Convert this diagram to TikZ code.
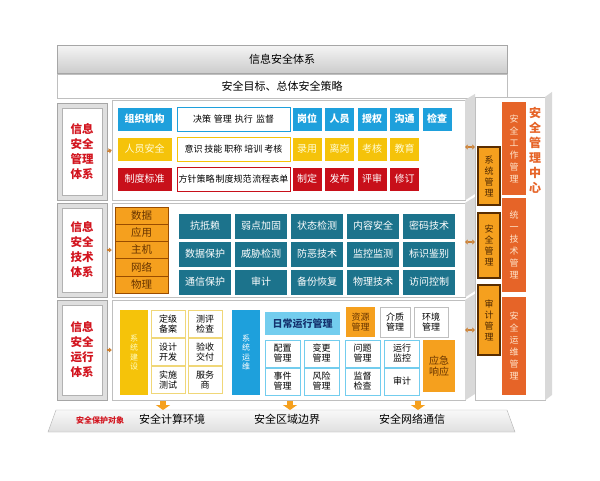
\documentclass[tikz,border=0pt]{standalone}
\usepackage{fontspec}
\setmainfont{Noto Sans CJK SC}
\usepackage{tikz}
\usetikzlibrary{shapes,arrows.meta}
\definecolor{skyblue}{RGB}{30,160,220}
\definecolor{sunyellow}{RGB}{245,195,10}
\definecolor{darkred}{RGB}{200,16,26}
\definecolor{tealblue}{RGB}{28,115,140}
\definecolor{lightorange}{RGB}{245,160,30}
\definecolor{redorange}{RGB}{230,100,40}
\definecolor{paleblue}{RGB}{115,205,238}
\definecolor{paleyellow}{RGB}{240,215,120}
\definecolor{labelred}{RGB}{210,20,30}
\definecolor{navy}{RGB}{20,50,110}
\tikzstyle{cell} = [rectangle, inner sep=0pt, align=center, font=\fontsize{10}{11}\selectfont]
\tikzstyle{blue cell} = [cell, fill=skyblue, draw=white, text=white, font=\fontsize{10}{11}\selectfont\bfseries]
\tikzstyle{yellow cell} = [cell, fill=sunyellow, draw=white, text=yellow!15]
\tikzstyle{red cell} = [cell, fill=darkred, draw=white, text=white]
\tikzstyle{white cell} = [cell, fill=white, line width=1pt, font=\fontsize{9}{10}\selectfont]
\tikzstyle{short} = [minimum width=30, minimum height=24]
\tikzstyle{teal cell} = [cell, fill=tealblue, draw=white, text=white, minimum width=53, minimum height=26]
\tikzstyle{layer cell} = [cell, fill=lightorange, draw=orange!60!black, line width=0.4pt, text=orange!40!black, minimum width=53, minimum height=17.2, font=\fontsize{10.5}{11}\selectfont]
\tikzstyle{ops cell} = [cell, fill=white, line width=1pt, font=\fontsize{9}{10}\selectfont, minimum height=27]
\tikzstyle{label box} = [rectangle, draw=gray!70, fill=gray!25, minimum width=50]
\tikzstyle{label text} = [rectangle, draw=gray!60, fill=white, align=center, text=labelred, font=\fontsize{11.5}{15}\selectfont\bfseries, minimum width=40]
\tikzstyle{panel} = [rectangle, draw=gray!50, fill=white]
\tikzstyle{vbar} = [cell, minimum width=28, minimum height=85, font=\fontsize{8}{9.5}\selectfont]
\tikzstyle{mgr box} = [cell, fill=lightorange, draw=orange!35!black, line width=1.2pt, minimum width=22, text=orange!30!black, font=\fontsize{9}{11}\selectfont]
\tikzstyle{center bar} = [cell, fill=redorange, minimum width=24, text=orange!20, font=\fontsize{9}{12}\selectfont]
\tikzstyle{pointer} = [line width=1.5pt, -{Triangle[length=3pt,width=5pt]}, orange!60!gray]
\tikzstyle{side arrow} = [line width=1.2pt, {Triangle[length=2.5pt,width=5pt]}-{Triangle[length=2.5pt,width=5pt]}, orange!60!gray]
\tikzstyle{down arrow} = [line width=6pt, -{Triangle[length=5pt,width=14pt]}, lightorange]
\begin{document}
\begin{tikzpicture}[x=1pt,y=-1pt]
        \fill[white] (0,0) rectangle (600,480);
        \useasboundingbox (0,0) rectangle (600,480);

        \node (title) [rectangle, draw=gray!70, top color=gray!8, bottom color=gray!40, minimum width=450, minimum height=28, font=\fontsize{11}{12}\selectfont] at (282,59) {信息安全体系};
        \node (goal) [rectangle, draw=gray!50, fill=white, minimum width=450, minimum height=24, font=\fontsize{11}{12}\selectfont] at (282,86) {安全目标、总体安全策略};

        % three layers on the left
        \node (mgtF) [label box, minimum height=97] at (82,151.5) { };
        \node (mgtL) [label text, minimum height=87] at (82,151.5) {信息\\安全\\管理\\体系};
        \node (techF) [label box, minimum height=94] at (82,250) { };
        \node (techL) [label text, minimum height=84] at (82,250) {信息\\安全\\技术\\体系};
        \node (opsF) [label box, minimum height=100] at (82,350) { };
        \node (opsL) [label text, minimum height=90] at (82,350) {信息\\安全\\运行\\体系};

        \node (opsP) [panel, minimum width=353, minimum height=100] at (288.5,350) { };
        \fill[gray!30] (opsP.north east) -- ++(10,-6) -- ++(0,100) -- (opsP.south east) -- cycle;
        \node (techP) [panel, minimum width=353, minimum height=94] at (288.5,250) { };
        \fill[gray!30] (techP.north east) -- ++(10,-6) -- ++(0,94) -- (techP.south east) -- cycle;
        \node (mgtP) [panel, minimum width=353, minimum height=100] at (288.5,150) { };
        \fill[gray!30] (mgtP.north east) -- ++(10,-6) -- ++(0,100) -- (mgtP.south east) -- cycle;

        \draw[pointer] (mgtF.east) -- (mgtP.west);
        \draw[pointer] (techF.east) -- (techP.west);
        \draw[pointer] (opsF.east) -- (opsP.west);

        % management
        \node (org) [blue cell, minimum width=55, minimum height=24] at (144.5,119) {组织机构};
        \node (orgW) [white cell, draw=skyblue, minimum width=113, minimum height=24] at (233.5,119) {决策\hspace{3pt}管理\hspace{3pt}执行\hspace{3pt}监督};
        \node (post) [blue cell, short] at (307,119) {岗位};
        \node (staff) [blue cell, short] at (339.5,119) {人员};
        \node (auth) [blue cell, short] at (372,119) {授权};
        \node (comm) [blue cell, short] at (404.5,119) {沟通};
        \node (check) [blue cell, short] at (437,119) {检查};

        \node (hr) [yellow cell, minimum width=55, minimum height=24] at (144.5,149) {人员安全};
        \node (hrW) [white cell, draw=sunyellow, minimum width=113, minimum height=24] at (233.5,149) {意识\hspace{2pt}技能\hspace{2pt}职称\hspace{2pt}培训\hspace{2pt}考核};
        \node (hire) [yellow cell, short] at (307,149) {录用};
        \node (leave) [yellow cell, short] at (339.5,149) {离岗};
        \node (exam) [yellow cell, short] at (372,149) {考核};
        \node (edu) [yellow cell, short] at (404.5,149) {教育};

        \node (rule) [red cell, minimum width=55, minimum height=24] at (144.5,179) {制度标准};
        \node (ruleW) [white cell, draw=darkred, minimum width=113, minimum height=24] at (233.5,179) {方针策略\hspace{1pt}制度规范\hspace{1pt}流程表单};
        \node (make) [red cell, short] at (307,179) {制定};
        \node (pub) [red cell, short] at (339.5,179) {发布};
        \node (review) [red cell, short] at (372,179) {评审};
        \node (revise) [red cell, short] at (404.5,179) {修订};

        % technology
        \node (data) [layer cell] at (141.5,215.6) {数据};
        \node (app) [layer cell] at (141.5,232.8) {应用};
        \node (host) [layer cell] at (141.5,250) {主机};
        \node (net) [layer cell] at (141.5,267.2) {网络};
        \node (phys) [layer cell] at (141.5,284.4) {物理};

        \node (t11) [teal cell] at (205,226) {抗抵赖};
        \node (t12) [teal cell] at (261,226) {弱点加固};
        \node (t13) [teal cell] at (317,226) {状态检测};
        \node (t14) [teal cell] at (373,226) {内容安全};
        \node (t15) [teal cell] at (429,226) {密码技术};
        \node (t21) [teal cell] at (205,254) {数据保护};
        \node (t22) [teal cell] at (261,254) {威胁检测};
        \node (t23) [teal cell] at (317,254) {防恶技术};
        \node (t24) [teal cell] at (373,254) {监控监测};
        \node (t25) [teal cell] at (429,254) {标识鉴别};
        \node (t31) [teal cell] at (205,282) {通信保护};
        \node (t32) [teal cell] at (261,282) {审计};
        \node (t33) [teal cell] at (317,282) {备份恢复};
        \node (t34) [teal cell] at (373,282) {物理技术};
        \node (t35) [teal cell] at (429,282) {访问控制};

        % operation
        \node (build) [vbar, fill=sunyellow, text=yellow!25] at (134,352.5) {系\\统\\建\\设};
        \node (grade) [ops cell, draw=paleyellow, minimum width=34] at (168,324) {定级\\备案};
        \node (eval) [ops cell, draw=paleyellow, minimum width=34] at (205,324) {测评\\检查};
        \node (design) [ops cell, draw=paleyellow, minimum width=34] at (168,352) {设计\\开发};
        \node (accept) [ops cell, draw=paleyellow, minimum width=34] at (205,352) {验收\\交付};
        \node (impl) [ops cell, draw=paleyellow, minimum width=34] at (168,380) {实施\\测试};
        \node (vendor) [ops cell, draw=paleyellow, minimum width=34] at (205,380) {服务\\商};

        \node (maint) [vbar, fill=skyblue, text=white] at (246,352.5) {系\\统\\运\\维};
        \node (daily) [cell, fill=paleblue, text=navy, minimum width=75, minimum height=23, font=\fontsize{10}{11}\selectfont\bfseries] at (302.5,323.5) {日常运行管理};
        \node (res) [ops cell, fill=lightorange, text=orange!40!black, line width=0pt, minimum width=29, minimum height=30] at (360.5,322) {资源\\管理};
        \node (media) [ops cell, draw=gray!50, minimum width=30, minimum height=30] at (395,322) {介质\\管理};
        \node (envM) [ops cell, draw=gray!50, minimum width=34, minimum height=30] at (431,322) {环境\\管理};
        \node (conf) [ops cell, draw=paleblue, minimum width=35] at (282.5,353.5) {配置\\管理};
        \node (change) [ops cell, draw=paleblue, minimum width=35] at (321.5,353.5) {变更\\管理};
        \node (issue) [ops cell, draw=paleblue, minimum width=35] at (362.5,353.5) {问题\\管理};
        \node (monit) [ops cell, draw=paleblue, minimum width=35] at (402,353.5) {运行\\监控};
        \node (event) [ops cell, draw=paleblue, minimum width=35] at (282.5,381.5) {事件\\管理};
        \node (risk) [ops cell, draw=paleblue, minimum width=35] at (321.5,381.5) {风险\\管理};
        \node (super) [ops cell, draw=paleblue, minimum width=35] at (362.5,381.5) {监督\\检查};
        \node (audit) [ops cell, draw=paleblue, minimum width=35] at (402,381.5) {审计};
        \node (emerg) [ops cell, fill=lightorange, text=orange!40!black, line width=0pt, minimum width=32, minimum height=52, font=\fontsize{10}{11}\selectfont] at (439,366) {应急\\响应};

        % protected objects
        \shade[draw=gray!60, top color=gray!5, bottom color=gray!25] (48,432) -- (56,410) -- (507,410) -- (515,432) -- cycle;
        \coordinate (bot) at (281.5,410);
        \node (prot) [text=labelred, font=\fontsize{8}{9}\selectfont\bfseries] at (100,420) {安全保护对象};
        \node (env1) [font=\fontsize{11}{12}\selectfont] at (172,419) {安全计算环境};
        \node (env2) [font=\fontsize{11}{12}\selectfont] at (287,419) {安全区域边界};
        \node (env3) [font=\fontsize{11}{12}\selectfont] at (412,419) {安全网络通信};
        \coordinate (d1) at (163,401);
        \coordinate (d2) at (290,401);
        \coordinate (d3) at (418,401);
        \draw[down arrow] (d1) -- (d1 |- bot);
        \draw[down arrow] (d2) -- (d2 |- bot);
        \draw[down arrow] (d3) -- (d3 |- bot);

        % security management centre
        \node (rcP) [panel, minimum width=70, minimum height=303] at (510,248.5) { };
        \fill[gray!30] (rcP.north east) -- ++(7,-5) -- ++(0,303) -- (rcP.south east) -- cycle;
        \draw[side arrow] ([yshift=3pt]mgtP.east) -- ([yshift=3pt]mgtP.east -| rcP.west);
        \draw[side arrow] ([yshift=8pt]techP.east) -- ([yshift=8pt]techP.east -| rcP.west);
        \draw[side arrow] ([yshift=20pt]opsP.east) -- ([yshift=20pt]opsP.east -| rcP.west);
        \node (sysM) [mgr box, minimum height=58] at (489,176) {系\\统\\管\\理};
        \node (secM) [mgr box, minimum height=65] at (489,245.5) {安\\全\\管\\理};
        \node (audM) [mgr box, minimum height=70] at (489,320) {审\\计\\管\\理};
        \node (work) [center bar, minimum height=93] at (514,148.5) {安\\全\\工\\作\\管\\理};
        \node (unify) [center bar, minimum height=94] at (514,245) {统\\一\\技\\术\\管\\理};
        \node (opsC) [center bar, minimum height=98] at (514,346) {安\\全\\运\\维\\管\\理};
        \node (centre) [align=center, text=redorange, inner sep=0pt, font=\fontsize{12}{15}\selectfont\bfseries] at (535,150) {安\\全\\管\\理\\中\\心};

    \end{tikzpicture}
\end{document}
